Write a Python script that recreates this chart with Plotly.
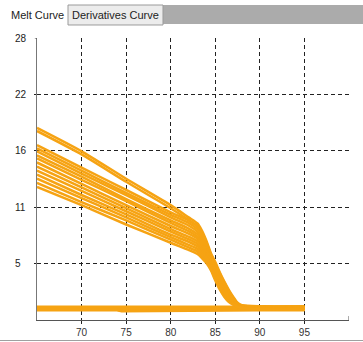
import plotly.graph_objects as go

# Temperature grid (°C) used for the melting samples
temps = [65, 70, 75, 80, 82, 83, 83.5, 84, 84.5, 85, 85.5, 86, 86.5, 87, 87.5, 88, 90, 95]

# Fluorescence of the melting samples (two high-signal replicates + main group)
melt_curves = [
    [18.9, 16.6, 13.9, 11.3, 10.1, 9.5, 8.8, 7.8, 6.6, 5.7, 4.7, 3.8, 3.0, 2.3, 1.7, 1.45, 1.35, 1.35],
    [18.6, 16.3, 13.6, 11.0, 9.85, 9.25, 8.6, 7.6, 6.45, 5.55, 4.6, 3.7, 2.9, 2.2, 1.65, 1.4, 1.3, 1.3],
    [17.2, 15.0, 12.8, 10.6, 9.8, 9.2, 8.6, 7.6, 6.4, 5.4, 4.5, 3.6, 2.8, 2.1, 1.6, 1.4, 1.3, 1.3],
    [16.9, 14.7, 12.5, 10.35, 9.55, 8.95, 8.4, 7.4, 6.25, 5.25, 4.35, 3.5, 2.7, 2.05, 1.6, 1.35, 1.3, 1.25],
    [16.6, 14.4, 12.3, 10.1, 9.3, 8.7, 8.15, 7.25, 6.1, 5.1, 4.2, 3.35, 2.6, 2.0, 1.55, 1.35, 1.25, 1.25],
    [16.2, 14.1, 11.9, 9.8, 9.0, 8.45, 7.9, 7.05, 6.0, 5.0, 4.1, 3.25, 2.55, 1.95, 1.5, 1.3, 1.25, 1.2],
    [15.9, 13.8, 11.7, 9.55, 8.75, 8.2, 7.7, 6.9, 5.85, 4.85, 3.95, 3.1, 2.45, 1.9, 1.5, 1.3, 1.2, 1.2],
    [15.5, 13.4, 11.3, 9.25, 8.5, 8.0, 7.45, 6.7, 5.7, 4.7, 3.8, 3.0, 2.35, 1.85, 1.45, 1.3, 1.2, 1.15],
    [15.1, 13.05, 11.0, 8.95, 8.2, 7.75, 7.25, 6.5, 5.6, 4.6, 3.7, 2.9, 2.25, 1.75, 1.45, 1.25, 1.15, 1.15],
    [14.7, 12.7, 10.7, 8.7, 7.95, 7.5, 7.0, 6.35, 5.45, 4.45, 3.55, 2.75, 2.15, 1.7, 1.4, 1.25, 1.15, 1.1],
    [14.3, 12.3, 10.4, 8.4, 7.7, 7.25, 6.8, 6.15, 5.3, 4.3, 3.4, 2.65, 2.05, 1.65, 1.4, 1.2, 1.1, 1.1],
    [13.9, 12.0, 10.1, 8.15, 7.4, 7.0, 6.55, 6.0, 5.2, 4.2, 3.3, 2.55, 2.0, 1.6, 1.35, 1.2, 1.1, 1.05],
    [13.5, 11.6, 9.8, 7.9, 7.15, 6.75, 6.3, 5.8, 5.05, 4.05, 3.15, 2.4, 1.9, 1.55, 1.35, 1.2, 1.05, 1.05],
    [13.1, 11.3, 9.4, 7.6, 6.9, 6.5, 6.1, 5.6, 4.9, 3.9, 3.0, 2.3, 1.8, 1.5, 1.3, 1.15, 1.05, 1.0],
]

# Non-melting samples (flat background signal)
base_temps = [65, 70, 74, 74.5, 78, 78.5, 80, 85, 90, 95]
base_curves = [
    [1.3, 1.3, 1.3, 1.3, 1.25, 1.3, 1.3, 1.3, 1.3, 1.3],
    [1.2, 1.2, 1.2, 1.15, 1.15, 1.2, 1.2, 1.2, 1.2, 1.2],
    [1.1, 1.1, 1.1, 1.05, 1.05, 1.1, 1.1, 1.1, 1.1, 1.1],
    [1.0, 1.0, 1.0, 0.9, 0.9, 0.95, 1.0, 1.0, 1.0, 1.0],
    [0.95, 0.95, 0.95, 0.85, 0.87, 0.92, 0.95, 0.95, 0.95, 0.95],
]

x_ticks = [70, 75, 80, 85, 90, 95]
y_ticks = [5.55, 11.1, 16.65, 22.2, 27.75]
y_tick_text = ["5", "11", "16", "22", "28"]

LINE = "#f6a313"
FONT = "Liberation Sans"

fig = go.Figure()
for ys in base_curves:
    fig.add_trace(go.Scatter(x=base_temps, y=ys, mode="lines",
                             line=dict(color=LINE, width=2.5)))
for ys in melt_curves:
    fig.add_trace(go.Scatter(x=temps, y=ys, mode="lines",
                             line=dict(color=LINE, width=2.5, shape="spline", smoothing=0.6)))

grid = dict(showgrid=True, gridcolor="#222222", gridwidth=1, griddash="4px,3px")

fig.update_xaxes(range=[65, 100], tickvals=x_ticks, ticktext=[str(t) for t in x_ticks],
                 ticks="outside", ticklen=3, tickcolor="#222222", automargin=False,
                 showline=True, linecolor="#555555", linewidth=1,
                 zeroline=False, tickfont=dict(family=FONT, size=10, color="#333333"),
                 **grid)
fig.update_yaxes(range=[0, 27.75], tickvals=y_ticks[:-1], showticklabels=False,
                 ticks="outside", ticklen=2, tickcolor="#222222", automargin=False,
                 showline=True, linecolor="#777777", linewidth=1,
                 zeroline=False, **grid)

# y tick labels, left aligned in the margin
for v, t in zip(y_ticks, y_tick_text):
    fig.add_annotation(x=-0.077, y=v, xref="paper", yref="y", text=t, showarrow=False,
                       xanchor="left", yanchor="middle",
                       font=dict(family=FONT, size=10, color="#222222"))

# small end ticks on the axes
fig.add_shape(type="line", xref="x", yref="paper", x0=100, x1=100, y0=0, y1=0.014,
              line=dict(color="#555555", width=1))
fig.add_shape(type="line", xref="paper", yref="y", x0=-0.007, x1=0, y0=27.75, y1=27.75,
              line=dict(color="#555555", width=1))

# tab strip above the plot
fig.add_shape(type="rect", xref="paper", yref="paper", x0=0.4038, x1=1.05, y0=1.0496, y1=1.117,
              fillcolor="#ababab", line=dict(width=0))
fig.add_shape(type="rect", xref="paper", yref="paper", x0=0.0994, x1=0.4038, y0=1.0461, y1=1.117,
              fillcolor="#ececec", line=dict(color="#9a9a9a", width=1))
fig.add_annotation(x=0.2532, y=1.0816, xref="paper", yref="paper", text="Derivatives Curve",
                   showarrow=False, xanchor="center", yanchor="middle",
                   font=dict(family=FONT, size=11, color="#222222"))
fig.add_annotation(x=0.0, y=1.0816, xref="paper", yref="paper", text="Melt Curve",
                   showarrow=False, xanchor="center", yanchor="middle",
                   font=dict(family=FONT, size=11, color="#222222"))
fig.add_shape(type="line", xref="paper", yref="paper", x0=-0.12, x1=1.05, y0=-0.0727, y1=-0.0727,
              line=dict(color="#a0a0a0", width=1))

fig.update_layout(width=363, height=342, margin=dict(l=37, r=14, t=38, b=22),
                  paper_bgcolor="white", plot_bgcolor="white", showlegend=False)

fig.write_html("out.html")
